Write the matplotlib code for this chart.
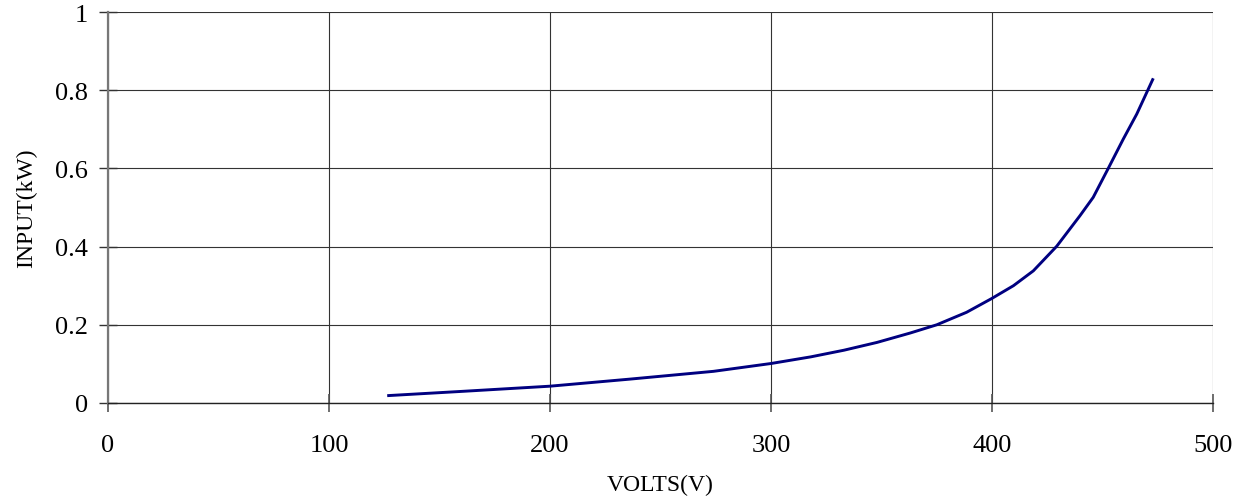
import numpy as np
import matplotlib.pyplot as plt

# ==============================
#  Data
# ==============================
volts = [127, 161, 200, 236, 274, 300, 318, 333, 348, 363, 375, 388.5,
         399.8, 409.7, 418.7, 429.3, 439.8, 445.8, 452.6, 459.4, 465.5, 472.7]
input_kw = [0.019, 0.030, 0.043, 0.061, 0.081, 0.101, 0.118, 0.135, 0.155,
            0.179, 0.200, 0.232, 0.267, 0.300, 0.338, 0.401, 0.479, 0.526,
            0.600, 0.675, 0.739, 0.827]

x_ticks = [0, 100, 200, 300, 400, 500]
y_ticks = [0, 0.2, 0.4, 0.6, 0.8, 1]
y_tick_labels = ["0", "0.2", "0.4", "0.6", "0.8", "1"]

plt.rcParams['font.family'] = ['Liberation Serif', 'DejaVu Serif']

fig = plt.figure(figsize=(12.42, 5.02), dpi=100)
ax = fig.add_axes([108 / 1242, 1 - 404 / 502, (1213 - 108) / 1242, (404 - 13) / 502])

ax.plot(volts, input_kw, color='#000080', lw=2.1, solid_joinstyle='round')

ax.set_xlim(0, 500)
ax.set_ylim(0, 1)
ax.set_xticks(x_ticks)
ax.set_yticks(y_ticks)
ax.set_yticklabels(y_tick_labels)

ax.grid(True, color='#333333', lw=0.8)
ax.set_axisbelow(True)

for side in ['top', 'right']:
    ax.spines[side].set_visible(False)
ax.spines['left'].set_color('#777777')
ax.spines['left'].set_linewidth(1.6)
ax.spines['bottom'].set_color('#222222')
ax.spines['bottom'].set_linewidth(1.0)

ax.tick_params(axis='x', direction='inout', length=13, width=1.2, color='#555555',
               pad=16, labelsize=19)
ax.tick_params(axis='y', direction='inout', length=13, width=1.0, color='#333333',
               pad=8, labelsize=19)

ax.set_xlabel("VOLTS(V)", fontsize=17, labelpad=13)
ax.set_ylabel("INPUT(kW)", fontsize=17, labelpad=13)

fig.savefig("out.png", dpi=100)
